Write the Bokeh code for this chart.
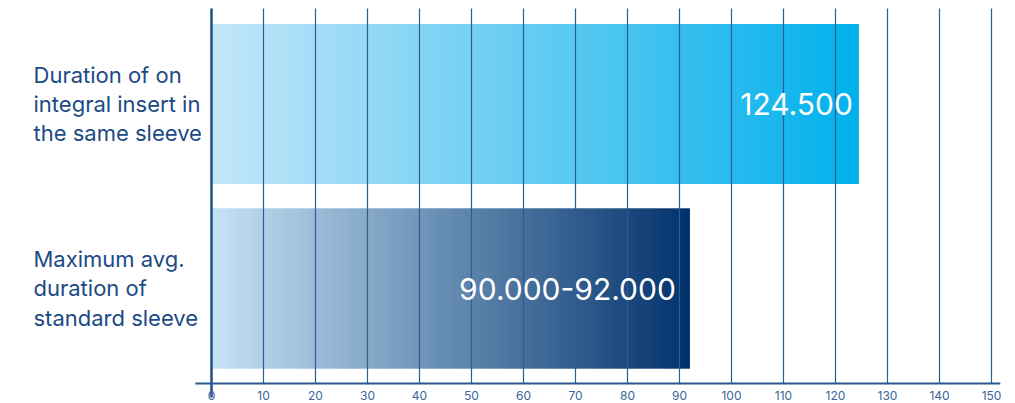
from bokeh.plotting import figure
from bokeh.models import Range1d
from bokeh.core.properties import value
from bokeh.embed import file_html
from bokeh.resources import INLINE

# ---------------- data ----------------
categories = ["Duration of on\nintegral insert in\nthe same sleeve",
              "Maximum avg.\nduration of\nstandard sleeve"]
values = [124.5, 92.0]
value_labels = ["124.500", "90.000-92.000"]
ticks = [0, 10, 20, 30, 40, 50, 60, 70, 80, 90, 100, 110, 120, 130, 140, 150]

# ---------------- styles ----------------
grad_start = ["#c4e6f8", "#c6e3f6"]
grad_end = ["#00b1ec", "#02326c"]
grid_color = "#2f5c93"
axis_color = "#2a5890"
label_color = "#1c4a85"
tick_color = "#3a6699"
FONT = "Inter"

W, H = 1015, 403
PX_PER_UNIT = 5.2
x0 = -211 / PX_PER_UNIT
x1 = x0 + W / PX_PER_UNIT
UNIT_Y = 184.5
CY = 288
y_top = CY / UNIT_Y
y_bot = -(H - CY) / UNIT_Y
grid_top = (CY - 8) / UNIT_Y
axis_y = -(383 - CY) / UNIT_Y
tick_label_y = -(395 - CY) / UNIT_Y
zero_bot = -(397 - CY) / UNIT_Y
BAR_H = 160 / UNIT_Y

p = figure(width=W, height=H, output_backend="svg", toolbar_location=None,
           x_range=Range1d(x0, x1), y_range=Range1d(y_bot, y_top),
           min_border=0, min_border_left=0, min_border_right=0,
           min_border_top=0, min_border_bottom=0)
p.axis.visible = False
p.grid.visible = False
p.outline_line_color = None
p.background_fill_color = "white"
p.border_fill_color = "white"


def hex2rgb(h):
    h = h.lstrip("#")
    return tuple(int(h[i:i + 2], 16) for i in (0, 2, 4))


def lerp(c0, c1, t):
    a, b = hex2rgb(c0), hex2rgb(c1)
    return "#%02x%02x%02x" % tuple(int(round(a[i] + (b[i] - a[i]) * t)) for i in range(3))


n = len(categories)
ypos = [n - 1 - i for i in range(n)]

# gradient bars (each bar split into thin overlapping slices)
N = 200
lefts, rights, tops, bottoms, colors = [], [], [], [], []
for i, v in enumerate(values):
    for k in range(N):
        lefts.append(v * k / N)
        rights.append(min(v, v * (k + 1) / N + 0.4))
        tops.append(ypos[i] + BAR_H / 2)
        bottoms.append(ypos[i] - BAR_H / 2)
        colors.append(lerp(grad_start[i], grad_end[i], (k + 0.5) / N))
p.quad(left=lefts, right=rights, top=tops, bottom=bottoms,
       fill_color=colors, line_color=None)

# vertical grid lines drawn over the bars
gt = [t for t in ticks if t != 0]
p.segment(x0=gt, x1=gt, y0=[axis_y] * len(gt), y1=[grid_top] * len(gt),
          line_color=grid_color, line_width=1.2)
# zero line (thicker, extends below the axis)
p.segment(x0=[ticks[0]], x1=[ticks[0]], y0=[zero_bot], y1=[grid_top],
          line_color="#1f4f8c", line_width=2.5)
# axis line
p.segment(x0=[-3.1], x1=[151.7], y0=[axis_y], y1=[axis_y],
          line_color=axis_color, line_width=2)

# tick labels
p.text(x=ticks, y=[tick_label_y] * len(ticks), text=[str(t) for t in ticks],
       text_font=value(FONT), text_font_size="12px", text_color=tick_color,
       text_align="center", text_baseline="middle")

# category labels
p.text(x=[(33 - 211) / PX_PER_UNIT] * n, y=ypos, text=categories,
       text_font=value(FONT), text_font_size="22px", text_color=label_color,
       text_align="left", text_baseline="middle", text_line_height=1.12)

# value labels inside the bars
p.text(x=values, y=ypos, text=value_labels, x_offset=[-6, -14],
       text_font=value(FONT), text_font_size="30px", text_color="white",
       text_align="right", text_baseline="middle")

open("out.html", "w").write(file_html(p, INLINE))
